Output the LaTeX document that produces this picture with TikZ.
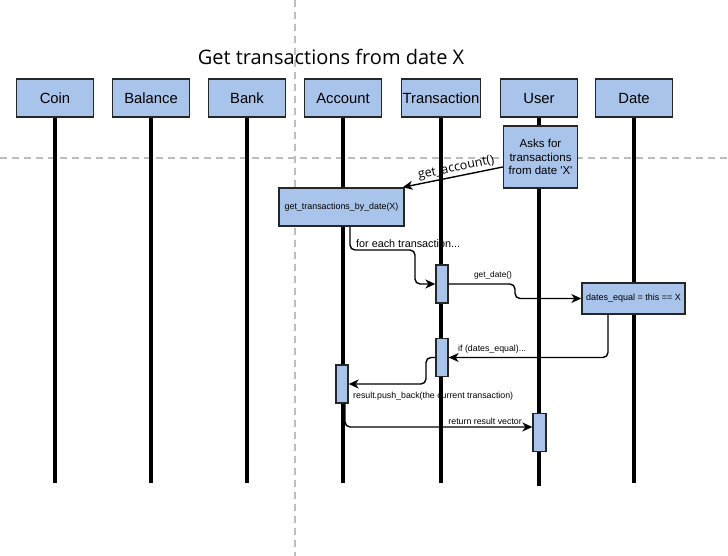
\documentclass[tikz,border=0pt]{standalone}
\usepackage{fontspec}
\setmainfont{Liberation Sans}
\newfontfamily\titlefont{Open Sans}
\usetikzlibrary{arrows.meta,positioning,calc}
\definecolor{boxblue}{HTML}{A9C4EB}
\definecolor{guidegray}{HTML}{BDBDBD}
\tikzset{
  head/.style={draw=black!85, fill=boxblue, line width=1.4pt, minimum width=77pt,
    minimum height=38pt, inner sep=1pt, text height=12.5pt, text depth=1pt,
    font=\fontsize{14.8}{16}\selectfont},
  life/.style={line width=3.4pt},
  act/.style={draw=black!85, fill=boxblue, line width=1.3pt, minimum width=12pt,
    minimum height=38pt, inner sep=0pt},
  note/.style={draw=black!85, fill=boxblue, line width=1.4pt, inner sep=1pt, align=center},
  msg/.style={line width=1.4pt, rounded corners=5pt, -{Stealth[length=10pt,width=9pt,inset=3pt]}},
  small/.style={font=\fontsize{8.8}{10}\selectfont, inner sep=1pt},
  guide/.style={guidegray, line width=1.2pt, dash pattern=on 7pt off 5pt}
}
\begin{document}
\begin{tikzpicture}[x=1pt,y=-1pt]
  \useasboundingbox (0,0) rectangle (728,556);
  % guides
  \draw[guide] (295,0) -- (295,556);
  \draw[guide] (0,158) -- (728,158);
  % title
  \node[font=\titlefont\fontsize{20}{22}\selectfont] (title) at (331,57) {Get transactions from date X};
  % lifelines
  \foreach \name/\txt/\x/\y in {coin/Coin/55/483, balance/Balance/151/483, bank/Bank/247/483,
      account/Account/343/483, transaction/Transaction/441/483, user/User/539/486, date/Date/634/483} {
    \node[head] (\name) at (\x,98) {\txt};
    \draw[life] (\name.south) -- (\x,\y);
  }
  % boxes on the lifelines
  \node[note, minimum width=74pt, minimum height=62pt, font=\fontsize{11.5}{13.5}\selectfont]
    (ask) at (540.5,157) {Asks for\\transactions\\from date \textquotesingle X\textquotesingle};
  \node[note, minimum width=125pt, minimum height=38pt, font=\fontsize{8.9}{10}\selectfont]
    (bydate) at (341.5,207) {get\_transactions\_by\_date(X)};
  \node[note, minimum width=103pt, minimum height=31pt, font=\fontsize{9}{10}\selectfont]
    (dateq) at (633.5,298.5) {dates\_equal = this == X};
  \node[act] (tact1) at (442,284) {};
  \node[act] (tact2) at (442,357.5) {};
  \node[act] (aact) at (342,384) {};
  \node[act, minimum width=13pt] (uact) at (539.5,432.5) {};
  % messages
  \draw[line width=1.4pt, {Stealth[length=10pt,width=9pt,inset=3pt]}-]
    ([xshift=-2pt]bydate.north east) -- ([yshift=-10pt]ask.west)
    node[pos=0.55, above=-2pt, sloped, font=\titlefont\fontsize{12.5}{14}\selectfont] (getacc) {get\_account()};
  \draw[msg] ([xshift=8.5pt]bydate.south) |- (415,250) |- (tact1.west);
  \node[small, font=\fontsize{10.8}{12}\selectfont, anchor=south west] (foreach) at (355,249) {for each transaction...};
  \draw[msg] (tact1.east) -- (515,284) |- (dateq.west);
  \node[small, font=\fontsize{8.3}{10}\selectfont, anchor=south] (getdate) at (493,280) {get\_date()};
  \draw[msg] ([xshift=-25.5pt]dateq.south) |- (tact2.east);
  \node[small, anchor=south west] (ifeq) at (457,355) {if (dates\_equal)...};
  \draw[msg] (tact2.west) -- (426,357.5) |- (aact.east);
  \node[small, anchor=west] (push) at (352,396) {result.push\_back(the current transaction)};
  \draw[msg] ([xshift=3pt]aact.south) |- ([yshift=5.5pt]uact.west);
  \node[small, anchor=south east] (ret) at (523,426) {return result vector};
\end{tikzpicture}
\end{document}
